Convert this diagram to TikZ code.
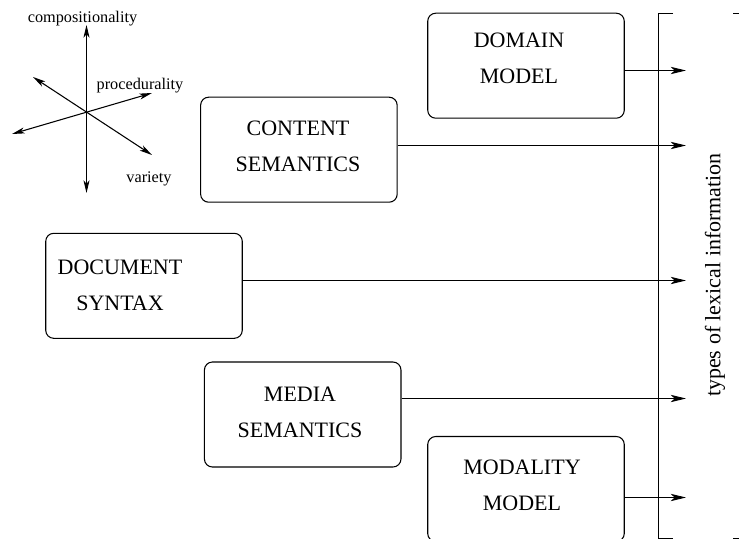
\documentclass[tikz,border=0pt]{standalone}
\usepackage{fontspec}
\setmainfont{Liberation Serif}
\usetikzlibrary{arrows.meta}

\tikzset{
    modbox/.style={
        draw, rectangle, rounded corners=6pt,
        minimum width=147.4pt, minimum height=78.75pt,
        line width=0.8pt
    },
    boxtext/.style={align=center, inner sep=0pt, font=\fontsize{16.5}{27}\selectfont},
    flow/.style={-{Stealth[length=11.5pt,width=5.5pt,inset=3pt]}, line width=0.8pt},
    axis/.style={{Stealth[length=9.5pt,width=4.5pt,inset=2.5pt]}-{Stealth[length=9.5pt,width=4.5pt,inset=2.5pt]}, line width=0.8pt},
    axislabel/.style={inner sep=0pt, font=\fontsize{12.2}{14}\selectfont}
}

\begin{document}
\begin{tikzpicture}[x=0.75pt, y=-0.75pt]
\useasboundingbox (0,0) rectangle (739,539);

% the three axes
\coordinate (comp-top) at (86.5,25);
\coordinate (comp-bot) at (86.5,193);
\coordinate (var-a) at (33,77);
\coordinate (var-b) at (152,155);
\coordinate (proc-a) at (12,134);
\coordinate (proc-b) at (152,93);
\draw[axis] (comp-bot) -- (comp-top);
\draw[axis] (var-a) -- (var-b);
\draw[axis] (proc-a) -- (proc-b);
\node[axislabel] (complbl) at (82.5,19) {compositionality};
\node[axislabel] (proclbl) at (140,86) {procedurality};
\node[axislabel] (varlbl) at (149,178.5) {variety};

% the five models
\node[modbox] (domain) at (526,65.7) {};
\node[boxtext] (domainlbl) at (519,58.5) {DOMAIN\\MODEL};

\node[modbox] (content) at (298.9,149.7) {};
\node[boxtext] (contentlbl) at (298,146.2) {CONTENT\\SEMANTICS};

\node[modbox] (document) at (144,285.8) {};
\node[boxtext] (documentlbl) at (120,285.2) {DOCUMENT\\SYNTAX};

\node[modbox] (media) at (302.7,414.5) {};
\node[boxtext] (medialbl) at (300,412.2) {MEDIA\\SEMANTICS};

\node[modbox] (modality) at (526,489) {};
\node[boxtext] (modalitylbl) at (522,485.2) {MODALITY\\MODEL};

% bracket collecting the information types
\draw[line width=0.8pt] (673,13.5) -- (658.5,13.5) -- (658.5,538.5) -- (673,538.5);
\draw[line width=0.8pt] (733,13.5) -- (740,13.5);
\draw[line width=0.8pt] (733,538.5) -- (740,538.5);
\node[rotate=90, inner sep=0pt, font=\fontsize{16.5}{20}\selectfont] (typeslbl) at (715,275) {types of lexical information};

\coordinate (domain-in) at (686,70.5);
\coordinate (content-in) at (686,145.5);
\coordinate (document-in) at (686,280.5);
\coordinate (media-in) at (686,398.5);
\coordinate (modality-in) at (686,497.5);

\draw[flow] (domain.east |- domain-in) -- (domain-in);
\draw[flow] (content.east |- content-in) -- (content-in);
\draw[flow] (document.east |- document-in) -- (document-in);
\draw[flow] (media.east |- media-in) -- (media-in);
\draw[flow] (modality.east |- modality-in) -- (modality-in);

\end{tikzpicture}
\end{document}
